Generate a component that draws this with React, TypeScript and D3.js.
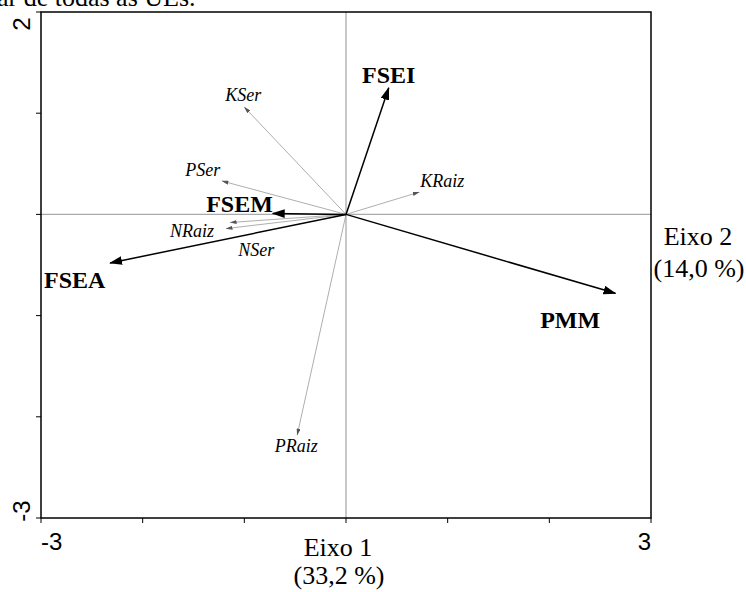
import React from "react";
import * as d3 from "d3";

const W = 746, H = 592;
const xTicks = [-3, -2, -1, 0, 1, 2, 3];
const yTicks = [-3, -2, -1, 0, 1, 2];
const xTickLabels = ["-3", "3"];
const yTickLabels = ["-3", "2"];

// main variables (bold black arrows)
const mainNames = ["FSEI", "FSEM", "FSEA", "PMM"];
const mainX = [0.42, -0.72, -2.32, 2.65];
const mainY = [1.25, 0.01, -0.48, -0.78];
const mainLabX = [0.42, -0.72, -2.97, 1.91];
const mainLabY = [1.30, 0.02, -0.73, -1.12];
const mainAnchor = ["middle", "end", "start", "start"];

// soil variables (thin grey arrows)
const soilNames = ["KSer", "PSer", "KRaiz", "NSer", "NRaiz", "PRaiz"];
const soilX = [-1.0, -1.22, 0.72, -1.14, -1.18, -0.48];
const soilY = [1.06, 0.33, 0.22, -0.08, -0.14, -2.18];
const soilLabX = [-1.01, -1.41, 0.73, -1.06, -1.73, -0.7];
const soilLabY = [1.12, 0.38, 0.27, -0.41, -0.22, -2.35];
const soilAnchor = ["middle", "middle", "start", "start", "start", "start"];

export default function App() {
  const x = d3.scaleLinear().domain([-3, 3]).range([41, 651]);
  const y = d3.scaleLinear().domain([-3, 2]).range([518, 12]);
  const serif = "'Liberation Serif', 'Times New Roman', serif";
  const sans = "'Liberation Sans', Arial, sans-serif";

  return (
    <svg width={W} height={H} style={{ position: "absolute", left: 0, top: 0, background: "#fff" }}>
      <defs>
        <marker id="big" viewBox="0 0 12 8" refX="11" refY="4" markerWidth="13" markerHeight="9" markerUnits="userSpaceOnUse" orient="auto">
          <path d="M0,0 L12,4 L0,8 Z" fill="#000" />
        </marker>
        <marker id="small" viewBox="0 0 7 4" refX="6.5" refY="2" markerWidth="7" markerHeight="4" markerUnits="userSpaceOnUse" orient="auto">
          <path d="M0,0 L7,2 L0,4 Z" fill="#555" />
        </marker>
      </defs>
      <text x={-3} y={6} fontFamily={serif} fontSize={26} fill="#000">ar de todas as UEs.</text>

      {/* zero lines */}
      <line x1={x(0)} x2={x(0)} y1={y(2)} y2={y(-3)} stroke="#777" strokeWidth={0.8} />
      <line x1={x(-3)} x2={x(3)} y1={y(0)} y2={y(0)} stroke="#aaa" strokeWidth={1.3} />

      {/* frame */}
      <rect x={x(-3)} y={y(2)} width={x(3) - x(-3)} height={y(-3) - y(2)} fill="none" stroke="#000" strokeWidth={1.5} />

      {xTicks.map((t) => (
        <line key={"xt" + t} x1={x(t)} x2={x(t)} y1={y(-3)} y2={y(-3) + 5} stroke="#000" strokeWidth={1} />
      ))}
      {yTicks.map((t) => (
        <line key={"yt" + t} x1={x(-3) - 5} x2={x(-3)} y1={y(t)} y2={y(t)} stroke="#000" strokeWidth={1} />
      ))}
      {xTickLabels.map((l) => (
        <text key={"xl" + l} x={x(+l)} y={550} textAnchor={+l < 0 ? "start" : "end"} fontFamily={sans} fontSize={24}>{l}</text>
      ))}
      {yTickLabels.map((l) => (
        <text key={"yl" + l} transform={`translate(${30},${+l > 0 ? 24 : 511}) rotate(-90)`} textAnchor="middle" fontFamily={sans} fontSize={24}>{l}</text>
      ))}

      <text x={338} y={556} textAnchor="middle" fontFamily={serif} fontSize={26}>Eixo 1</text>
      <text x={339} y={584} textAnchor="middle" fontFamily={serif} fontSize={26}>(33,2 %)</text>
      <text x={698} y={245} textAnchor="middle" fontFamily={serif} fontSize={26}>Eixo 2</text>
      <text x={699} y={277} textAnchor="middle" fontFamily={serif} fontSize={26}>(14,0 %)</text>

      {soilNames.map((n, i) => (
        <g key={n}>
          <line x1={x(0)} y1={y(0)} x2={x(soilX[i])} y2={y(soilY[i])} stroke="#999" strokeWidth={0.8} markerEnd="url(#small)" />
          <text x={x(soilLabX[i])} y={y(soilLabY[i])} textAnchor={soilAnchor[i]} fontFamily={serif} fontStyle="italic" fontSize={18}>{n}</text>
        </g>
      ))}
      {mainNames.map((n, i) => (
        <g key={n}>
          <line x1={x(0)} y1={y(0)} x2={x(mainX[i])} y2={y(mainY[i])} stroke="#000" strokeWidth={1.5} markerEnd="url(#big)" />
          <text x={x(mainLabX[i])} y={y(mainLabY[i])} textAnchor={mainAnchor[i]} fontFamily={serif} fontWeight="bold" fontSize={24}>{n}</text>
        </g>
      ))}
    </svg>
  );
}
